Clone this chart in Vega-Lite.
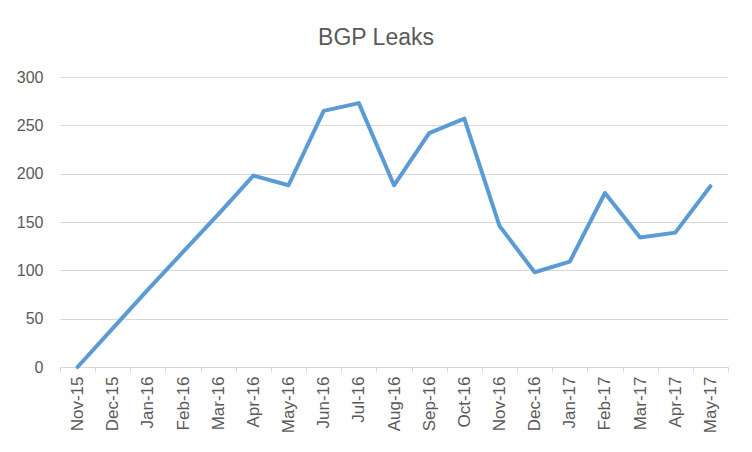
{
  "$schema": "https://vega.github.io/schema/vega-lite/v6.json",
  "autosize": "none",
  "width": 668,
  "height": 290,
  "padding": {"left": 60, "top": 77, "right": 24, "bottom": 85},
  "background": "white",
  "title": {"text": "BGP Leaks", "fontSize": 23, "font": "Liberation Sans", "fontWeight": "normal", "color": "#595959", "anchor": "middle", "offset": 19, "dx": -18},
  "data": {"values": [
    {"month": "Nov-15", "leaks": 0},
    {"month": "Dec-15", "leaks": 40},
    {"month": "Jan-16", "leaks": 80},
    {"month": "Feb-16", "leaks": 119},
    {"month": "Mar-16", "leaks": 158},
    {"month": "Apr-16", "leaks": 198},
    {"month": "May-16", "leaks": 188},
    {"month": "Jun-16", "leaks": 265},
    {"month": "Jul-16", "leaks": 273},
    {"month": "Aug-16", "leaks": 188},
    {"month": "Sep-16", "leaks": 242},
    {"month": "Oct-16", "leaks": 257},
    {"month": "Nov-16", "leaks": 146},
    {"month": "Dec-16", "leaks": 98},
    {"month": "Jan-17", "leaks": 109},
    {"month": "Feb-17", "leaks": 180},
    {"month": "Mar-17", "leaks": 134},
    {"month": "Apr-17", "leaks": 139},
    {"month": "May-17", "leaks": 187}
  ]},
  "mark": {"type": "line", "color": "#5B9BD5", "strokeWidth": 4, "strokeCap": "round", "strokeJoin": "round"},
  "encoding": {
    "x": {"field": "month", "type": "ordinal", "sort": null, "bandPosition": 0.5,
      "scale": {"type": "band", "paddingInner": 0, "paddingOuter": 0},
      "axis": {"title": null, "labelAngle": -90, "labelAlign": "right", "labelBaseline": "middle", "labelFontSize": 17, "labelFont": "Liberation Sans", "labelColor": "#595959", "labelPadding": 4,
        "tickBand": "extent", "tickSize": 5, "tickColor": "#d9d9d9", "domainColor": "#d9d9d9", "domainWidth": 1, "grid": false}},
    "y": {"field": "leaks", "type": "quantitative",
      "scale": {"domain": [0, 300]},
      "axis": {"title": null, "values": [0, 50, 100, 150, 200, 250, 300], "labelFontSize": 16, "labelFont": "Liberation Sans", "labelColor": "#595959", "labelPadding": 17,
        "ticks": false, "domain": false, "grid": true, "gridColor": "#d9d9d9", "gridWidth": 1}}
  },
  "config": {"view": {"stroke": null}}
}
